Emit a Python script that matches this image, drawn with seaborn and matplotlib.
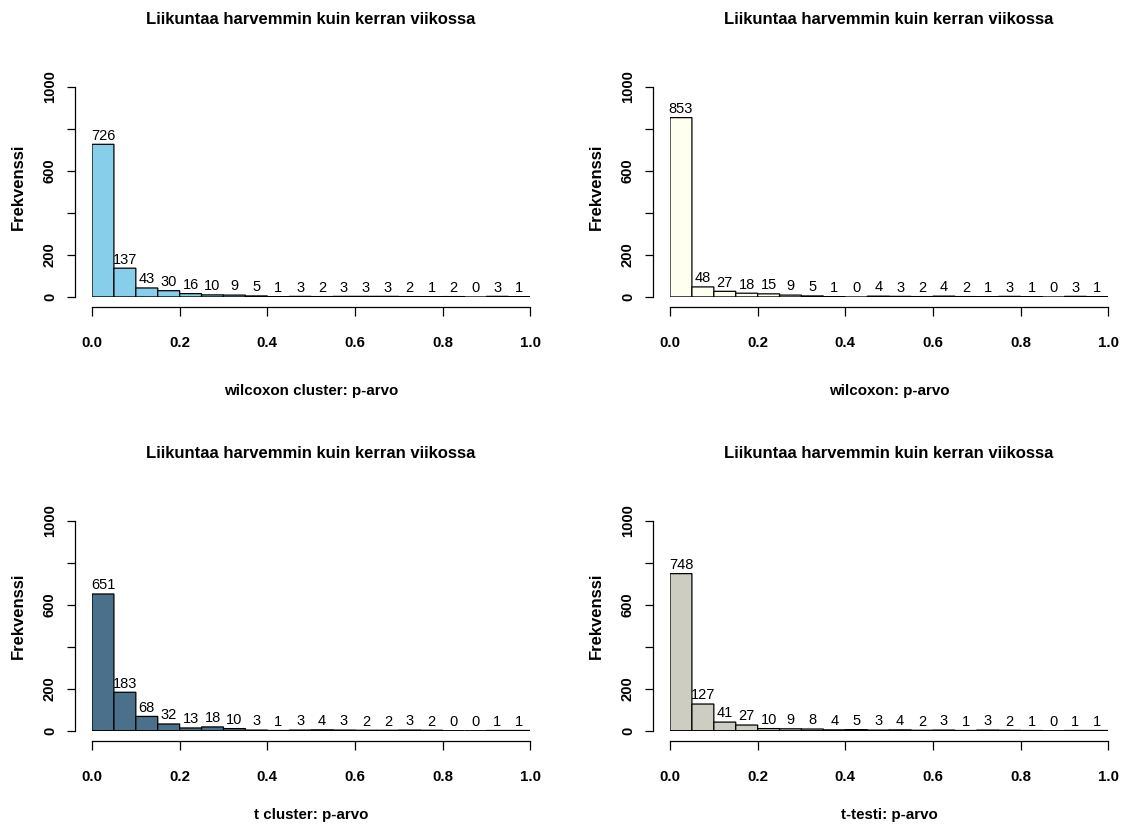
import numpy as np
import pandas as pd
import matplotlib
matplotlib.use("Agg")
import matplotlib.pyplot as plt
import seaborn as sns

# Histogram counts over 20 equal-width p-value bins on [0, 1]
bin_edges = np.linspace(0.0, 1.0, 21)
bin_centers = (bin_edges[:-1] + bin_edges[1:]) / 2

counts_wilcoxon_cluster = [726, 137, 43, 30, 16, 10, 9, 5, 1, 3, 2, 3, 3, 3, 2, 1, 2, 0, 3, 1]
counts_wilcoxon = [853, 48, 27, 18, 15, 9, 5, 1, 0, 4, 3, 2, 4, 2, 1, 3, 1, 0, 3, 1]
counts_t_cluster = [651, 183, 68, 32, 13, 18, 10, 3, 1, 3, 4, 3, 2, 2, 3, 2, 0, 0, 1, 1]
counts_t_test = [748, 127, 41, 27, 10, 9, 8, 4, 5, 3, 4, 2, 3, 1, 3, 2, 1, 0, 1, 1]

panel_title = "Liikuntaa harvemmin kuin kerran viikossa"
x_labels = ["wilcoxon cluster: p-arvo", "wilcoxon: p-arvo", "t cluster: p-arvo", "t-testi: p-arvo"]
bar_colors = ["#87CEEB", "#FFFFF0", "#4A708B", "#CDCDC1"]
y_label = "Frekvenssi"
x_ticks = [0.0, 0.2, 0.4, 0.6, 0.8, 1.0]
x_ticklabels = ["0.0", "0.2", "0.4", "0.6", "0.8", "1.0"]
y_ticks = [0, 200, 400, 600, 800, 1000]
y_ticklabels = ["0", "200", "", "600", "", "1000"]

sns.set_style("ticks")
plt.rcParams["font.family"] = ["Liberation Sans", "DejaVu Sans"]
for key in ("text.color", "axes.labelcolor", "xtick.color", "ytick.color", "axes.edgecolor"):
    plt.rcParams[key] = "black"

W, H = 1127, 825
fig = plt.figure(figsize=(W / 100, H / 100), dpi=100)

# plot boxes in pixels: (left, top, right, bottom) of the data range [0,1] x [0,1000],
# plus the vertical centres of the x-axis title and the y-axis title
boxes = [
    (92, 86.7, 530.3, 297.0, 390.5, 187.0),
    (670, 86.7, 1108.3, 297.0, 390.5, 187.0),
    (92, 520.7, 530.3, 730.7, 815.5, 615.5),
    (670, 520.7, 1108.3, 730.7, 815.5, 615.5),
]
all_counts = [counts_wilcoxon_cluster, counts_wilcoxon, counts_t_cluster, counts_t_test]

for box, counts, color, xlab in zip(boxes, all_counts, bar_colors, x_labels):
    l, t, r, b, xlab_y, ylab_y = box
    ax = fig.add_axes([l / W, 1 - b / H, (r - l) / W, (b - t) / H])
    df = pd.DataFrame({"p": bin_centers, "n": counts})
    sns.histplot(data=df, x="p", weights="n", bins=bin_edges.tolist(), ax=ax,
                 color=color, edgecolor="black", linewidth=0.9, alpha=1)
    for patch in ax.patches:
        patch.set_snap(False)
    # bar bottoms along zero
    ax.axhline(0, color="black", linewidth=1.0, zorder=3)
    ax.set_xlim(0, 1)
    ax.set_ylim(0, 1000)

    ax.bar_label(ax.containers[0], fmt="{:.0f}", padding=1.2, fontsize=10.5,
                 color="black", clip_on=False)

    for side in ("top", "right"):
        ax.spines[side].set_visible(False)
    ax.spines["left"].set_position(("outward", 12.2))
    ax.spines["bottom"].set_position(("outward", 7.4))
    ax.spines["left"].set_bounds(0, 1000)
    ax.spines["bottom"].set_bounds(0, 1)
    for side in ("left", "bottom"):
        ax.spines[side].set_linewidth(0.9)
        ax.spines[side].set_color("black")

    ax.set_xticks(x_ticks)
    ax.set_xticklabels(x_ticklabels, fontsize=10.8, fontweight="bold")
    ax.set_yticks(y_ticks)
    ax.set_yticklabels(y_ticklabels, fontsize=10.6, fontweight="bold",
                       rotation=90, va="center")
    ax.tick_params(axis="x", length=6.7, width=0.9, pad=14.0, color="black")
    ax.tick_params(axis="y", length=6.0, width=0.9, pad=7.0, color="black")

    ax.set_xlabel("")
    ax.set_ylabel("")
    ax.set_title(panel_title, fontsize=12, fontweight="bold", pad=45.0)

    # axis titles
    fig.text(((l + r) / 2) / W, 1 - xlab_y / H, xlab, ha="center", va="center",
             fontsize=10.9, fontweight="bold")
    fig.text((l - 73.7) / W, 1 - ylab_y / H, y_label, ha="center", va="center",
             rotation=90, fontsize=12, fontweight="bold")

fig.savefig("out.png", dpi=100)
